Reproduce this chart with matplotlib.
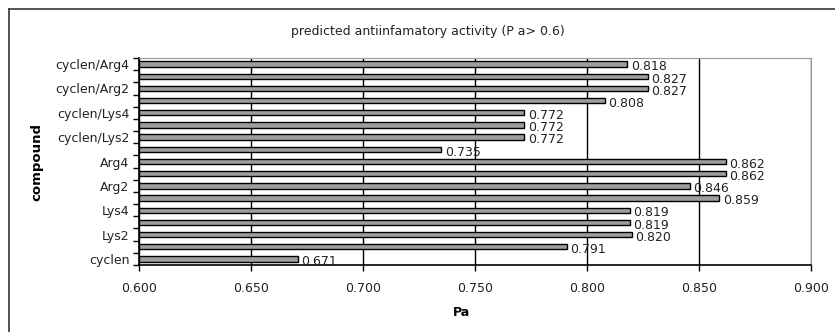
import matplotlib
matplotlib.use("Agg")
import matplotlib.pyplot as plt
from matplotlib.lines import Line2D

compounds = ["cyclen", "Lys1", "Lys2", "Lys3", "Lys4", "Arg1", "Arg2", "Arg3", "Arg4",
             "cyclen/Lys1", "cyclen/Lys2", "cyclen/Lys3", "cyclen/Lys4",
             "cyclen/Arg1", "cyclen/Arg2", "cyclen/Arg3", "cyclen/Arg4"]
pa = [0.671, 0.791, 0.820, 0.819, 0.819, 0.859, 0.846, 0.862, 0.862,
      0.735, 0.772, 0.772, 0.772, 0.808, 0.827, 0.827, 0.818]
xticks = [0.600, 0.650, 0.700, 0.750, 0.800, 0.850, 0.900]

plt.rcParams['font.family'] = ['DejaVu Sans']

fig = plt.figure(figsize=(8.35, 3.32), dpi=100)
ax = fig.add_axes([0.1665, 0.2018, 0.8048, 0.6235])

y = list(range(len(compounds)))
ax.barh(y, [v - 0.6 for v in pa], left=0.6, height=0.44,
        color="#9e9e9e", edgecolor="black", linewidth=1.0, zorder=3)

for yi, v in zip(y, pa):
    ax.annotate("%.3f" % v, (v, yi), xytext=(2.5, -2), textcoords="offset points",
                va="center", ha="left", fontsize=9, color="#222222", zorder=4)

ax.set_xlim(0.6, 0.9)
ax.set_ylim(-0.5, len(compounds) - 0.5)
ax.set_xticks(xticks)
ax.set_xticklabels(["%.3f" % t for t in xticks], fontsize=9, color="#222222")

# ticks on category boundaries, labels on every other category
ax.set_yticks([i - 0.5 for i in range(len(compounds) + 1)])
ax.set_yticklabels([])
ax.set_yticks(y[::2], minor=True)
ax.set_yticklabels(compounds[::2], minor=True, fontsize=9, color="#222222")
ax.tick_params(axis="y", which="major", length=4, width=1, color="black")
ax.tick_params(axis="y", which="minor", length=0, pad=7)
ax.tick_params(axis="x", length=4, width=1, pad=8)

ax.grid(axis="x", color="black", linewidth=1.0, zorder=0)
ax.spines["left"].set_linewidth(1.2)
ax.spines["bottom"].set_linewidth(1.2)
ax.spines["top"].set_color("#999999")
ax.spines["right"].set_color("#999999")

ax.set_xlabel("Pa", fontsize=9, fontweight="bold")
ax.xaxis.set_label_coords(0.48, -0.2)
ax.set_ylabel("compound", fontsize=9.5, fontweight="bold")
ax.yaxis.set_label_coords(-0.143, 0.5)
fig.text(0.512, 0.905, "predicted antiinfamatory activity (P a> 0.6)",
         ha="center", va="center", fontsize=9, color="#222222")

# outer chart frame (left and top edges visible)
fig.add_artist(Line2D([9 / 835, 9 / 835], [0, 1 - 9 / 332], color="#444444", linewidth=1.3))
fig.add_artist(Line2D([9 / 835, 1], [1 - 9 / 332, 1 - 9 / 332], color="#444444", linewidth=1.3))

fig.savefig("out.png", dpi=100)
